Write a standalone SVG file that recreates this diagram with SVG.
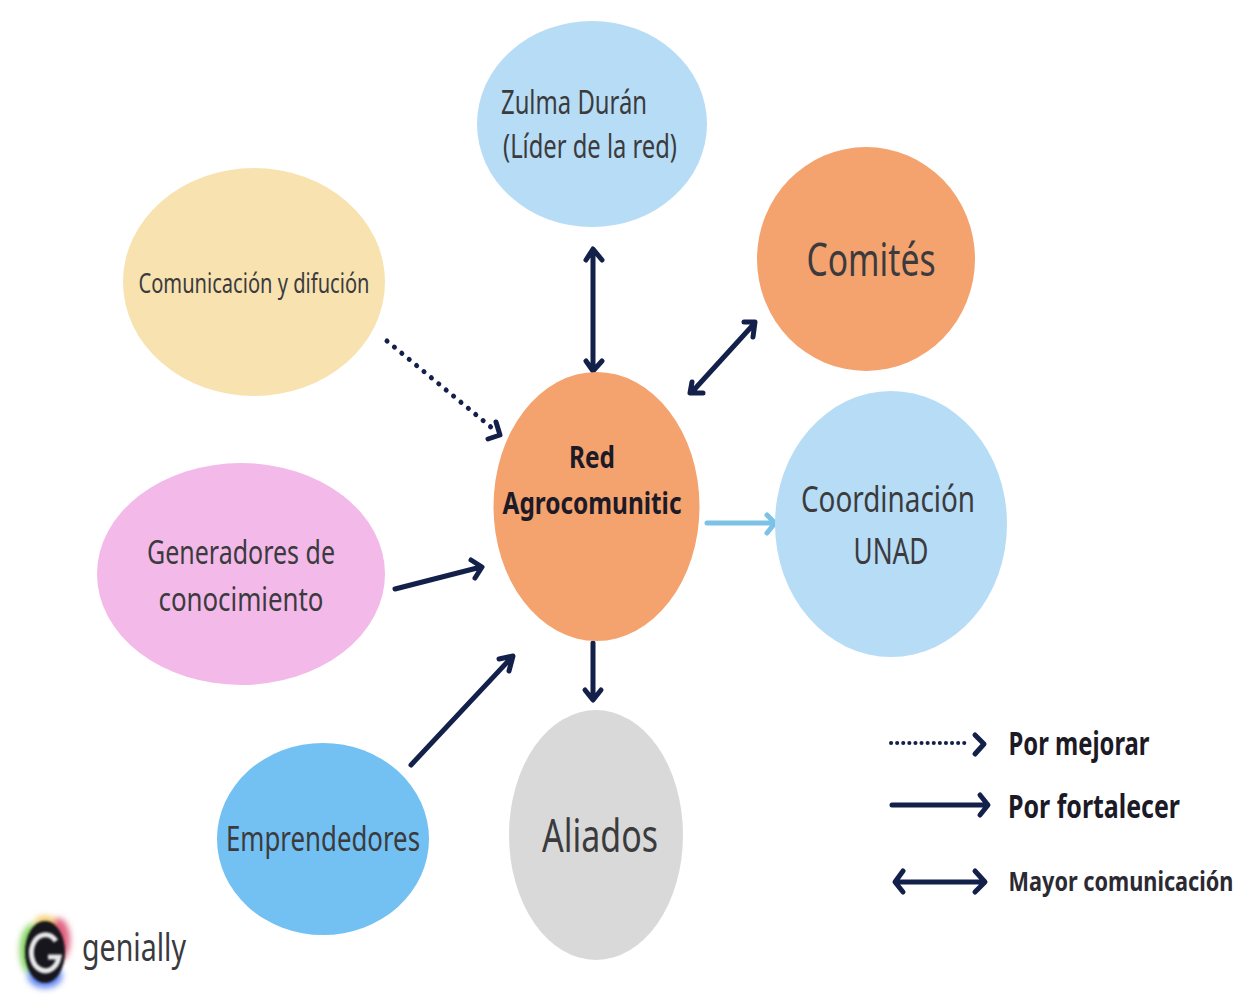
<svg xmlns="http://www.w3.org/2000/svg" width="1249" height="1004" viewBox="0 0 1249 1004">
<style>
text{font-family:"Noto Sans","Open Sans","Liberation Sans",sans-serif;fill:#3b3b3e;text-anchor:middle}
.b{font-weight:700;fill:#1c1a26}
.a{fill:none;stroke:#13204a;stroke-width:5;stroke-linecap:round;stroke-linejoin:round}
.t{stroke-width:4}
.l{stroke:#7cc1e6}
</style>
<defs>
<filter id="bl" x="-50%" y="-50%" width="200%" height="200%"><feGaussianBlur stdDeviation="3"/></filter>
<filter id="bs" x="-20%" y="-20%" width="140%" height="140%"><feGaussianBlur stdDeviation="0.8"/></filter>
</defs>
<rect width="1249" height="1004" fill="#fff"/>
<g id="connectors">
<path class="a" d="M593 250V370M586 260L593 249L602 260M586 361L593 371L602 361"/>
<path class="a" d="M692 392L753 325M744 322L755 322L753 337M692 382L690 393L703 393"/>
<path class="a" stroke-dasharray="0.1 9.5" d="M387 341L492 428"/>
<path class="a" d="M496 422L500 435L488 439"/>
<path class="a" d="M395 589L481 567M471 560L482 567L475 578"/>
<path class="a" d="M411 765L512 657M499 659L513 656L509 671"/>
<path class="a" d="M593 643V699M585 690L593 700L601 690"/>
<path class="a l" d="M707 523H773M767 515L775 523L767 533"/>
</g>
<g id="zulma"><ellipse cx="592" cy="124" rx="115" ry="103" fill="#b7dcf5"/>
<text x="574" y="114" font-size="32" textLength="146" lengthAdjust="spacingAndGlyphs">Zulma Durán</text>
<text x="590" y="158" font-size="32" textLength="174" lengthAdjust="spacingAndGlyphs">(Líder de la red)</text></g>
<g id="comites"><ellipse cx="866" cy="259" rx="109" ry="112" fill="#f4a26e"/>
<text x="871" y="276" font-size="46" textLength="129" lengthAdjust="spacingAndGlyphs">Comités</text></g>
<g id="comunicacion"><ellipse cx="254" cy="282" rx="131" ry="114" fill="#f7e2b0"/>
<text x="254" y="293" font-size="28" textLength="231" lengthAdjust="spacingAndGlyphs">Comunicación y difución</text></g>
<g id="red"><ellipse cx="596.500" cy="506.500" rx="103" ry="134.500" fill="#f4a26e"/>
<text class="b" x="592" y="468" font-size="31" textLength="46" lengthAdjust="spacingAndGlyphs">Red</text>
<text class="b" x="592" y="514" font-size="31" textLength="179" lengthAdjust="spacingAndGlyphs">Agrocomunitic</text></g>
<g id="coordinacion"><ellipse cx="891" cy="524" rx="116" ry="133" fill="#b7dcf5"/>
<text x="888" y="512" font-size="36" textLength="174" lengthAdjust="spacingAndGlyphs">Coordinación</text>
<text x="891" y="564" font-size="36" textLength="75" lengthAdjust="spacingAndGlyphs">UNAD</text></g>
<g id="generadores"><ellipse cx="241" cy="574" rx="144" ry="111" fill="#f3b9e8"/>
<text x="241" y="564" font-size="33" textLength="188" lengthAdjust="spacingAndGlyphs">Generadores de</text>
<text x="241" y="611" font-size="33" textLength="165" lengthAdjust="spacingAndGlyphs">conocimiento</text></g>
<g id="emprendedores"><ellipse cx="323" cy="839" rx="106" ry="96" fill="#73c0f2"/>
<text x="323" y="851" font-size="34" textLength="194" lengthAdjust="spacingAndGlyphs">Emprendedores</text></g>
<g id="aliados"><ellipse cx="596" cy="835" rx="87" ry="125" fill="#d9d9d9"/>
<text x="600" y="852" font-size="46" textLength="116" lengthAdjust="spacingAndGlyphs">Aliados</text></g>
<g id="legend">
<path class="a t" stroke-dasharray="0.1 6" d="M891 743H970"/>
<path class="a" d="M975 735L984 744L975 754"/>
<path class="a" d="M892 805H985M980 795L988 805L980 815"/>
<path class="a" d="M897 882H983M903 871L895 882L903 892M975 871L985 882L975 892"/>
<text class="b" x="1079" y="755" font-size="32" textLength="141" lengthAdjust="spacingAndGlyphs">Por mejorar</text>
<text class="b" x="1094" y="818" font-size="32" textLength="172" lengthAdjust="spacingAndGlyphs">Por fortalecer</text>
<text class="b" transform="translate(1121 891) scale(0.8 1)" font-size="27" textLength="281" lengthAdjust="spacingAndGlyphs" style="fill:#2b2a33">Mayor comunicación</text>
</g>
<g id="genially-logo">
<g filter="url(#bl)">
<ellipse cx="33" cy="950" rx="13" ry="26" fill="#7fd05a"/>
<ellipse cx="58" cy="940" rx="12" ry="22" fill="#e0607f"/>
<ellipse cx="45" cy="976" rx="17" ry="12" fill="#5f83ee"/>
<ellipse cx="45" cy="922" rx="10" ry="6" fill="#f0c860"/>
</g>
<ellipse cx="45" cy="952" rx="20" ry="31" fill="#17161c" filter="url(#bs)"/>
<path d="M56 941A14 18 0 1 0 59 957H48" fill="none" stroke="#e8e8ea" stroke-width="5" filter="url(#bs)"/>
<text x="134" y="961" font-size="38" textLength="104" lengthAdjust="spacingAndGlyphs" style="fill:#3a3a3e">genially</text>
</g>
</svg>
